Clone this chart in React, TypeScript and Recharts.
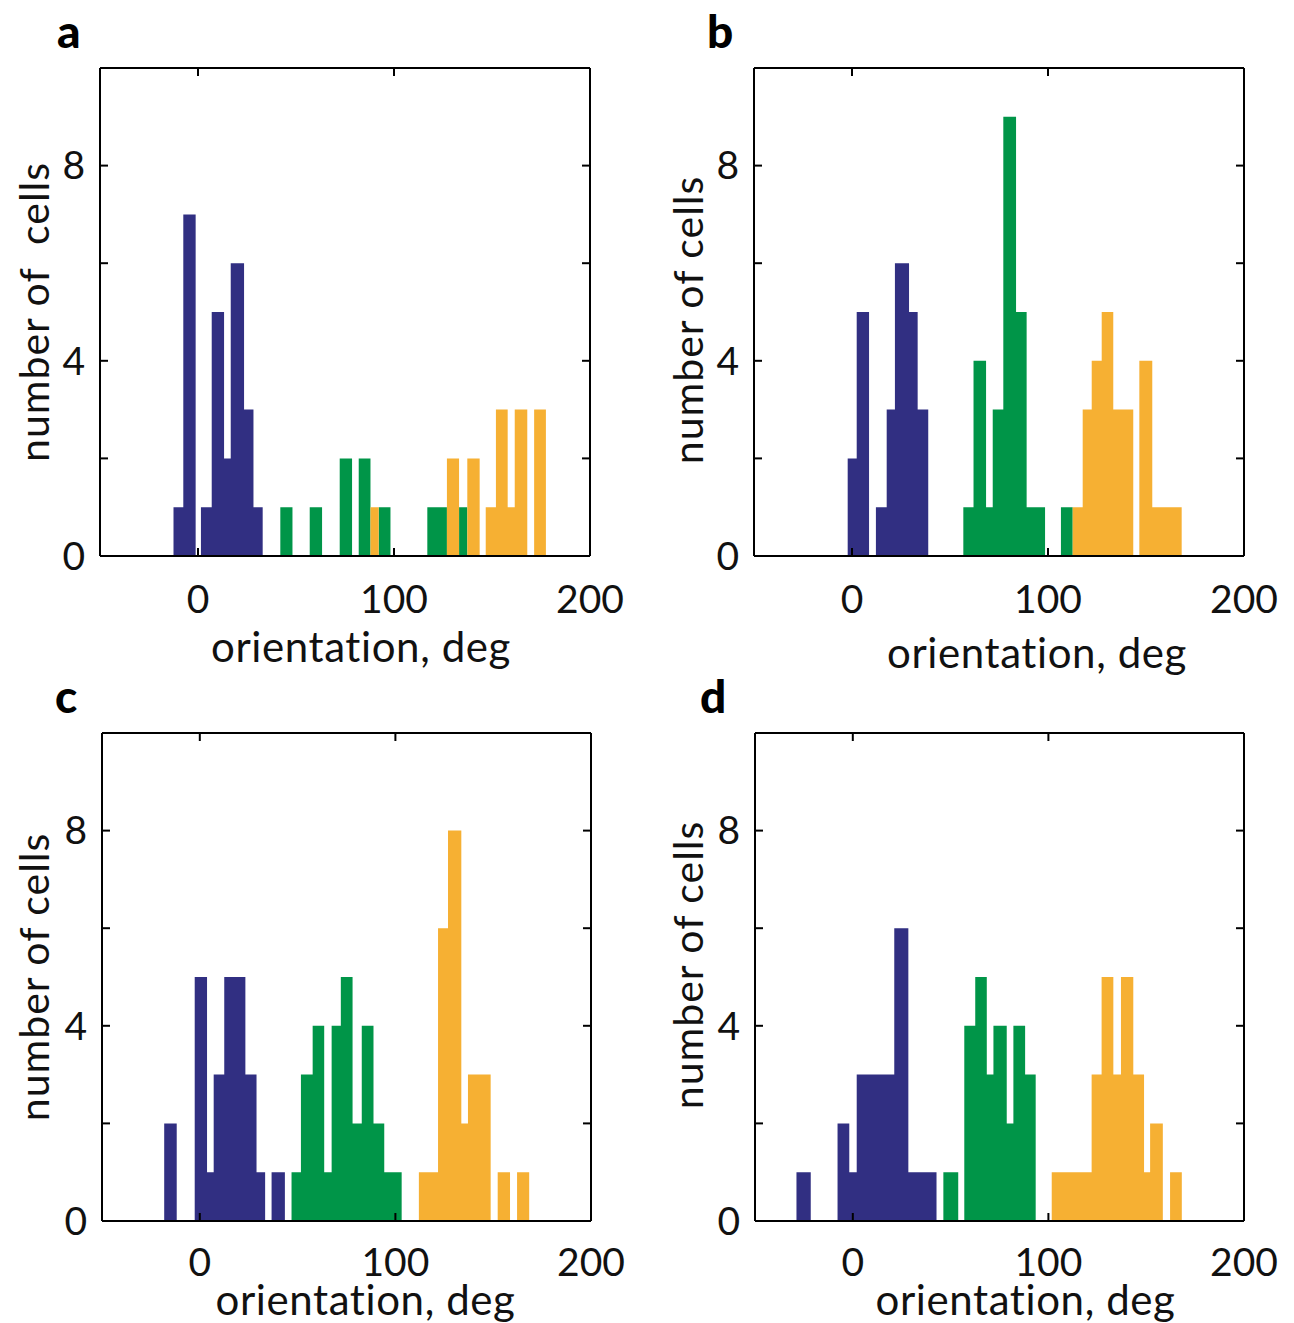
import { Area, AreaChart, XAxis, YAxis } from 'recharts'

const BLUE = '#312f82'
const GREEN = '#009548'
const ORANGE = '#f6b033'
const FONT = 'Lato, "Open Sans", sans-serif'

// each bin: [start deg, end deg, count]
type Bin = [number, number, number]

const blueA: Bin[] = [[-12.5, -7.5, 1], [-7.5, -1.2, 7], [1.5, 7, 1], [7, 13.3, 5], [13.3, 16.7, 2], [16.7, 23.5, 6], [23.5, 28.3, 3], [28.3, 33, 1]]
const greenA: Bin[] = [[42, 48.2, 1], [57, 63.3, 1], [72.3, 78.6, 2], [82, 88, 2], [92.2, 98.2, 1], [117, 127, 1], [133.2, 137.4, 1]]
const orangeA: Bin[] = [[88, 92.2, 1], [127, 133.2, 2], [137.4, 143.7, 2], [146.8, 152, 1], [152, 158, 3], [158, 161.6, 1], [161.6, 168, 3], [171.5, 177.5, 3]]

const blueB: Bin[] = [[-2.2, 2.4, 2], [2.4, 8.7, 5], [12.2, 17.7, 1], [17.7, 21.9, 3], [21.9, 29.1, 6], [29.1, 33.5, 5], [33.5, 38.9, 3]]
const greenB: Bin[] = [[56.8, 62, 1], [62, 68.4, 4], [68.4, 71.8, 1], [71.8, 77.2, 3], [77.2, 83.7, 9], [83.7, 89.1, 5], [89.1, 98.5, 1], [106.6, 112.6, 1]]
const orangeB: Bin[] = [[112.6, 117.7, 1], [117.7, 122.3, 3], [122.3, 127.4, 4], [127.4, 133.3, 5], [133.3, 143.5, 3], [146.6, 153.2, 4], [153.2, 168.2, 1]]

const blueC: Bin[] = [[-18.2, -11.8, 2], [-2.6, 3.7, 5], [3.7, 7.1, 1], [7.1, 12.5, 3], [12.5, 23.3, 5], [23.3, 29, 3], [29, 33.4, 1], [36.7, 43.5, 1]]
const greenC: Bin[] = [[46.9, 51.7, 1], [51.7, 57.7, 3], [57.7, 63.6, 4], [63.6, 67.4, 1], [67.4, 72.1, 4], [72.1, 78.1, 5], [78.1, 82.8, 2], [82.8, 88.8, 4], [88.8, 94.3, 2], [94.3, 103.2, 1]]
const orangeC: Bin[] = [[112, 121.8, 1], [121.8, 126.9, 6], [126.9, 133.7, 8], [133.7, 137.1, 2], [137.1, 148.7, 3], [152.3, 158.6, 1], [162.2, 168.4, 1]]

const blueD: Bin[] = [[-28.8, -21.5, 1], [-7.8, -1.8, 2], [-1.8, 2, 1], [2, 21.2, 3], [21.2, 28.4, 6], [28.4, 42.8, 1]]
const greenD: Bin[] = [[46.3, 53.9, 1], [57, 62.6, 4], [62.6, 68.5, 5], [68.5, 71.9, 3], [71.9, 78.7, 4], [78.7, 82.1, 2], [82.1, 88.1, 4], [88.1, 93.5, 3]]
const orangeD: Bin[] = [[101.7, 122.1, 1], [122.1, 127.2, 3], [127.2, 133.2, 5], [133.2, 137.1, 3], [137.1, 143.4, 5], [143.4, 148.9, 3], [148.9, 152, 1], [152, 158.5, 2], [162.2, 168.2, 1]]

const xTicks = [0, 100, 200]
const yTicks = [0, 2, 4, 6, 8, 10]
const yLabeled = [0, 4, 8]

// turn bins into step points on a shared x grid
function buildRows(blue: Bin[], green: Bin[], orange: Bin[]) {
  const edges = new Set<number>([-50, 200])
  for (const b of [...blue, ...green, ...orange]) {
    edges.add(b[0])
    edges.add(b[1])
  }
  const xs = [...edges].sort((p, q) => p - q)
  const at = (bins: Bin[], x: number) => {
    const hit = bins.find((b) => x >= b[0] && x < b[1])
    return hit ? hit[2] : 0
  }
  return xs.map((x) => ({ x, blue: at(blue, x), green: at(green, x), orange: at(orange, x) }))
}

type PanelProps = {
  letter: string
  yLabel: string
  rows: ReturnType<typeof buildRows>
  left: number
  top: number
  width: number
  height: number
  padL: number
  padR: number
  padT: number
  padB: number
  tickGapX: number
  xLabelDx: number
  xLabelY: number
  yLabelX: number
  yLabelDy: number
  letterX: number
  letterY: number
}

function Panel(p: PanelProps) {
  const axisStyle = { stroke: '#000', strokeWidth: 2 }
  const tickStyle = { fontSize: 39, fill: '#111', fontFamily: FONT }
  return (
    <div style={{ position: 'absolute', left: p.left, top: p.top, width: p.width, height: p.height }}>
      <div
        style={{
          position: 'absolute',
          left: p.letterX,
          top: p.letterY,
          fontFamily: FONT,
          fontWeight: 900,
          fontSize: 46,
          lineHeight: 1,
          color: '#000',
        }}
      >
        {p.letter}
      </div>
      <AreaChart width={p.width} height={p.height} data={p.rows} margin={{ top: 0, right: 0, bottom: 0, left: 0 }}>
        <XAxis
          dataKey="x"
          type="number"
          domain={[-50, 200]}
          ticks={xTicks}
          allowDataOverflow
          height={p.padB}
          axisLine={axisStyle}
          tickLine={axisStyle}
          tickSize={-8}
          tickMargin={p.tickGapX}
          tick={tickStyle}
          label={{
            content: ({ viewBox }: any) => (
              <text
                x={viewBox.x + viewBox.width / 2 + p.xLabelDx}
                y={p.xLabelY}
                textAnchor="middle"
                fontSize={42}
                fontFamily={FONT}
                fill="#111"
                letterSpacing={0.6}
              >
                orientation, deg
              </text>
            ),
          }}
        />
        <XAxis
          xAxisId="top"
          orientation="top"
          dataKey="x"
          type="number"
          domain={[-50, 200]}
          ticks={xTicks}
          allowDataOverflow
          height={p.padT}
          axisLine={axisStyle}
          tickLine={axisStyle}
          tickSize={-8}
          tickFormatter={() => ''}
        />
        <YAxis
          type="number"
          domain={[0, 10]}
          ticks={yTicks}
          allowDataOverflow
          width={p.padL}
          axisLine={axisStyle}
          tickLine={axisStyle}
          tickSize={-8}
          tickMargin={23}
          tick={tickStyle}
          tickFormatter={(v: number) => (yLabeled.includes(v) ? String(v) : '')}
          label={{
            content: ({ viewBox }: any) => {
              const cy = viewBox.y + viewBox.height / 2 + p.yLabelDy
              return (
                <text
                  x={p.yLabelX}
                  y={cy}
                  transform={`rotate(-90 ${p.yLabelX} ${cy})`}
                  textAnchor="middle"
                  fontSize={41}
                  fontFamily={FONT}
                  fill="#111"
                  letterSpacing={1}
                  style={{ whiteSpace: 'pre' }}
                >
                  {p.yLabel}
                </text>
              )
            },
          }}
        />
        <YAxis
          yAxisId="right"
          orientation="right"
          type="number"
          domain={[0, 10]}
          ticks={yTicks}
          allowDataOverflow
          width={p.padR}
          axisLine={axisStyle}
          tickLine={axisStyle}
          tickSize={-8}
          tickFormatter={() => ''}
        />
        <Area type="stepAfter" dataKey="blue" stroke="none" fill={BLUE} fillOpacity={1} isAnimationActive={false} dot={false} activeDot={false} />
        <Area type="stepAfter" dataKey="green" stroke="none" fill={GREEN} fillOpacity={1} isAnimationActive={false} dot={false} activeDot={false} />
        <Area type="stepAfter" dataKey="orange" stroke="none" fill={ORANGE} fillOpacity={1} isAnimationActive={false} dot={false} activeDot={false} />
      </AreaChart>
    </div>
  )
}

export default function App() {
  return (
    <div style={{ position: 'absolute', left: 0, top: 0, width: 1294, height: 1323, background: '#fff', overflow: 'hidden' }}>
      <Panel
        letter="a"
        yLabel="number of  cells"
        rows={buildRows(blueA, greenA, orangeA)}
        left={0}
        top={0}
        width={647}
        height={690}
        padL={100}
        padR={57}
        padT={68}
        padB={134}
        tickGapX={37}
        xLabelDx={16}
        xLabelY={662}
        yLabelX={49}
        yLabelDy={0}
        letterX={57}
        letterY={8}
      />
      <Panel
        letter="b"
        yLabel="number of cells"
        rows={buildRows(blueB, greenB, orangeB)}
        left={647}
        top={0}
        width={647}
        height={690}
        padL={107}
        padR={50}
        padT={68}
        padB={134}
        tickGapX={37}
        xLabelDx={38}
        xLabelY={668}
        yLabelX={56}
        yLabelDy={8}
        letterX={60}
        letterY={8}
      />
      <Panel
        letter="c"
        yLabel="number of cells"
        rows={buildRows(blueC, greenC, orangeC)}
        left={0}
        top={665}
        width={647}
        height={658}
        padL={102}
        padR={56}
        padT={68}
        padB={102}
        tickGapX={35}
        xLabelDx={19}
        xLabelY={650}
        yLabelX={49}
        yLabelDy={0}
        letterX={55}
        letterY={8}
      />
      <Panel
        letter="d"
        yLabel="number of cells"
        rows={buildRows(blueD, greenD, orangeD)}
        left={647}
        top={665}
        width={647}
        height={658}
        padL={108}
        padR={50}
        padT={68}
        padB={102}
        tickGapX={35}
        xLabelDx={26}
        xLabelY={650}
        yLabelX={56}
        yLabelDy={-12}
        letterX={53}
        letterY={8}
      />
    </div>
  )
}
